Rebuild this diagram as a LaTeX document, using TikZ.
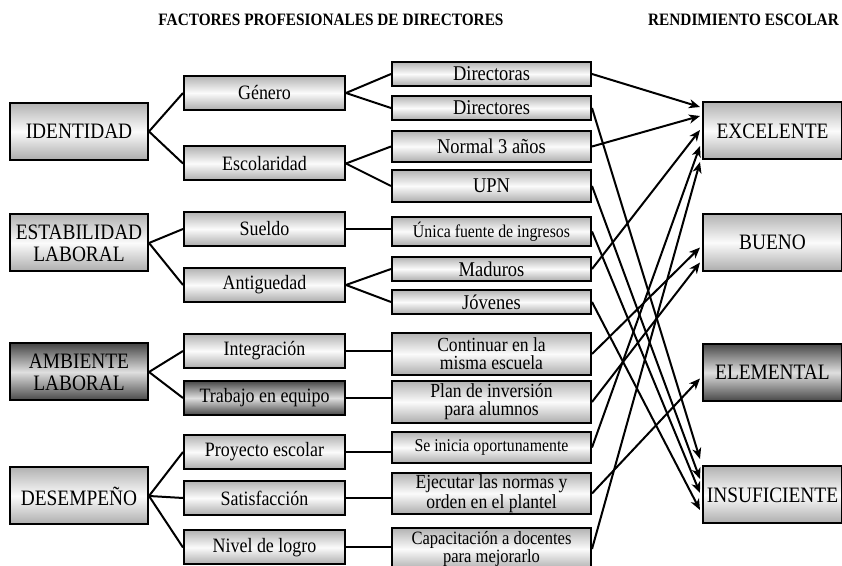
\documentclass[tikz,border=0pt]{standalone}
\usepackage{fontspec}
\setmainfont[FakeStretch=0.88]{Liberation Serif}
\usetikzlibrary{calc,arrows.meta}

\tikzset{
  box/.style={draw,line width=1pt,inner sep=0pt,align=center,
    top color=gray!60,bottom color=gray!65,middle color=gray!3},
  darkbox/.style={top color=black!72,bottom color=black!72,middle color=gray!25},
  lvlone/.style={box,minimum width=69pt,minimum height=28.5pt,font=\fontsize{11}{11}\selectfont},
  lvltwo/.style={box,minimum width=80.5pt,minimum height=17pt,font=\fontsize{10.2}{10}\selectfont},
  lvlthree/.style={box,minimum width=99.5pt,font=\fontsize{10}{9}\selectfont},
  result/.style={box,minimum width=69.5pt,minimum height=28.5pt,font=\fontsize{11}{11}\selectfont},
  link/.style={line width=1pt},
  title/.style={font=\bfseries\fontsize{8.7}{9}\selectfont},
}

\begin{document}
\begin{tikzpicture}[x=0.5pt,y=-0.5pt]
	\useasboundingbox (0,0) rectangle (842,566);

	\node[title] (tfac) at (331,20) {FACTORES PROFESIONALES DE DIRECTORES};
	\node[title] (trend) at (743.5,20) {RENDIMIENTO ESCOLAR};

	\node[lvlone] (ident) at (79,131.5) {IDENTIDAD};
	\node[lvlone] (estab) at (79,243) {ESTABILIDAD\\LABORAL};
	\node[lvlone,darkbox] (ambien) at (79,372) {AMBIENTE\\LABORAL};
	\node[lvlone] (desemp) at (79,496) {DESEMPEÑO};

	\node[lvltwo] (genero) at (264.5,93) {Género};
	\node[lvltwo] (escol) at (264.5,163.5) {Escolaridad};
	\node[lvltwo] (sueldo) at (264.5,229) {Sueldo};
	\node[lvltwo] (antig) at (264.5,285) {Antiguedad};
	\node[lvltwo] (integ) at (264.5,351) {Integración};
	\node[lvltwo,darkbox] (trabajo) at (264.5,398) {Trabajo en equipo};
	\node[lvltwo] (proyecto) at (264.5,452) {Proyecto escolar};
	\node[lvltwo] (satisf) at (264.5,498) {Satisfacción};
	\node[lvltwo] (nivel) at (264.5,547.5) {Nivel de logro};

	\node[lvlthree,minimum height=12pt,font=\fontsize{10.5}{9}\selectfont] (dras) at (491.5,74) {Directoras};
	\node[lvlthree,minimum height=12pt,font=\fontsize{10.5}{9}\selectfont] (dres) at (491.5,108) {Directores};
	\node[lvlthree,minimum height=15.5pt,font=\fontsize{10.5}{9}\selectfont] (normal) at (491.5,146.5) {Normal 3 años};
	\node[lvlthree,minimum height=16pt,font=\fontsize{10.5}{9}\selectfont] (upn) at (491.5,186) {UPN};
	\node[lvlthree,minimum height=14.5pt,font=\fontsize{9}{9}\selectfont] (unica) at (491.5,231.5) {Única fuente de ingresos};
	\node[lvlthree,minimum height=12pt,font=\fontsize{10.5}{9}\selectfont] (maduros) at (491.5,269) {Maduros};
	\node[lvlthree,minimum height=12pt,font=\fontsize{10.5}{9}\selectfont] (jovenes) at (491.5,302) {Jóvenes};
	\node[lvlthree,minimum height=21pt] (contin) at (491.5,354) {Continuar en la\\misma escuela};
	\node[lvlthree,minimum height=21pt] (plan) at (491.5,402) {Plan de inversión\\para alumnos};
	\node[lvlthree,minimum height=15.5pt,font=\fontsize{9}{9}\selectfont] (seinic) at (491.5,447.5) {Se inicia oportunamente};
	\node[lvlthree,minimum height=20.5pt] (ejecut) at (491.5,493.5) {Ejecutar las normas y\\orden en el plantel};
	\node[lvlthree,minimum height=21pt,font=\fontsize{9.4}{9}\selectfont] (capac) at (491.5,549) {Capacitación a docentes\\para mejorarlo};

	\node[result] (exc) at (772.5,131) {EXCELENTE};
	\node[result] (bueno) at (772.5,242.5) {BUENO};
	\node[result,darkbox] (elem) at (772.5,372.5) {ELEMENTAL};
	\node[result] (insuf) at (772.5,495) {INSUFICIENTE};

	\foreach \a/\b in {ident/genero,ident/escol,estab/sueldo,estab/antig,ambien/integ,ambien/trabajo,desemp/proyecto,desemp/satisf,desemp/nivel}
		\draw[link] (\a.east) -- (\b.west);
	\foreach \a/\b in {genero/dras,genero/dres,escol/normal,escol/upn,antig/maduros,antig/jovenes}
		\draw[link] (\a.east) -- (\b.west);
	\foreach \a/\b in {sueldo/unica,integ/contin,trabajo/plan,proyecto/seinic,satisf/ejecut,nivel/capac}
		\draw[link] (\a.east) -- (\a.east -| \b.west);

	% level three to results
	\foreach \a/\b/\d in {dras/exc/-24,normal/exc/-15,maduros/exc/-1,seinic/exc/15,capac/exc/31,contin/bueno/5,plan/bueno/20,ejecut/elem/6,dres/insuf/-36,upn/insuf/-16,unica/insuf/-2,jovenes/insuf/15}
		\draw[link,>={Stealth[length=5.5pt,width=4.5pt,inset=1.6pt]},->] (\a.east) -- ($(\b.west)+(-2,\d)$);
\end{tikzpicture}
\end{document}
